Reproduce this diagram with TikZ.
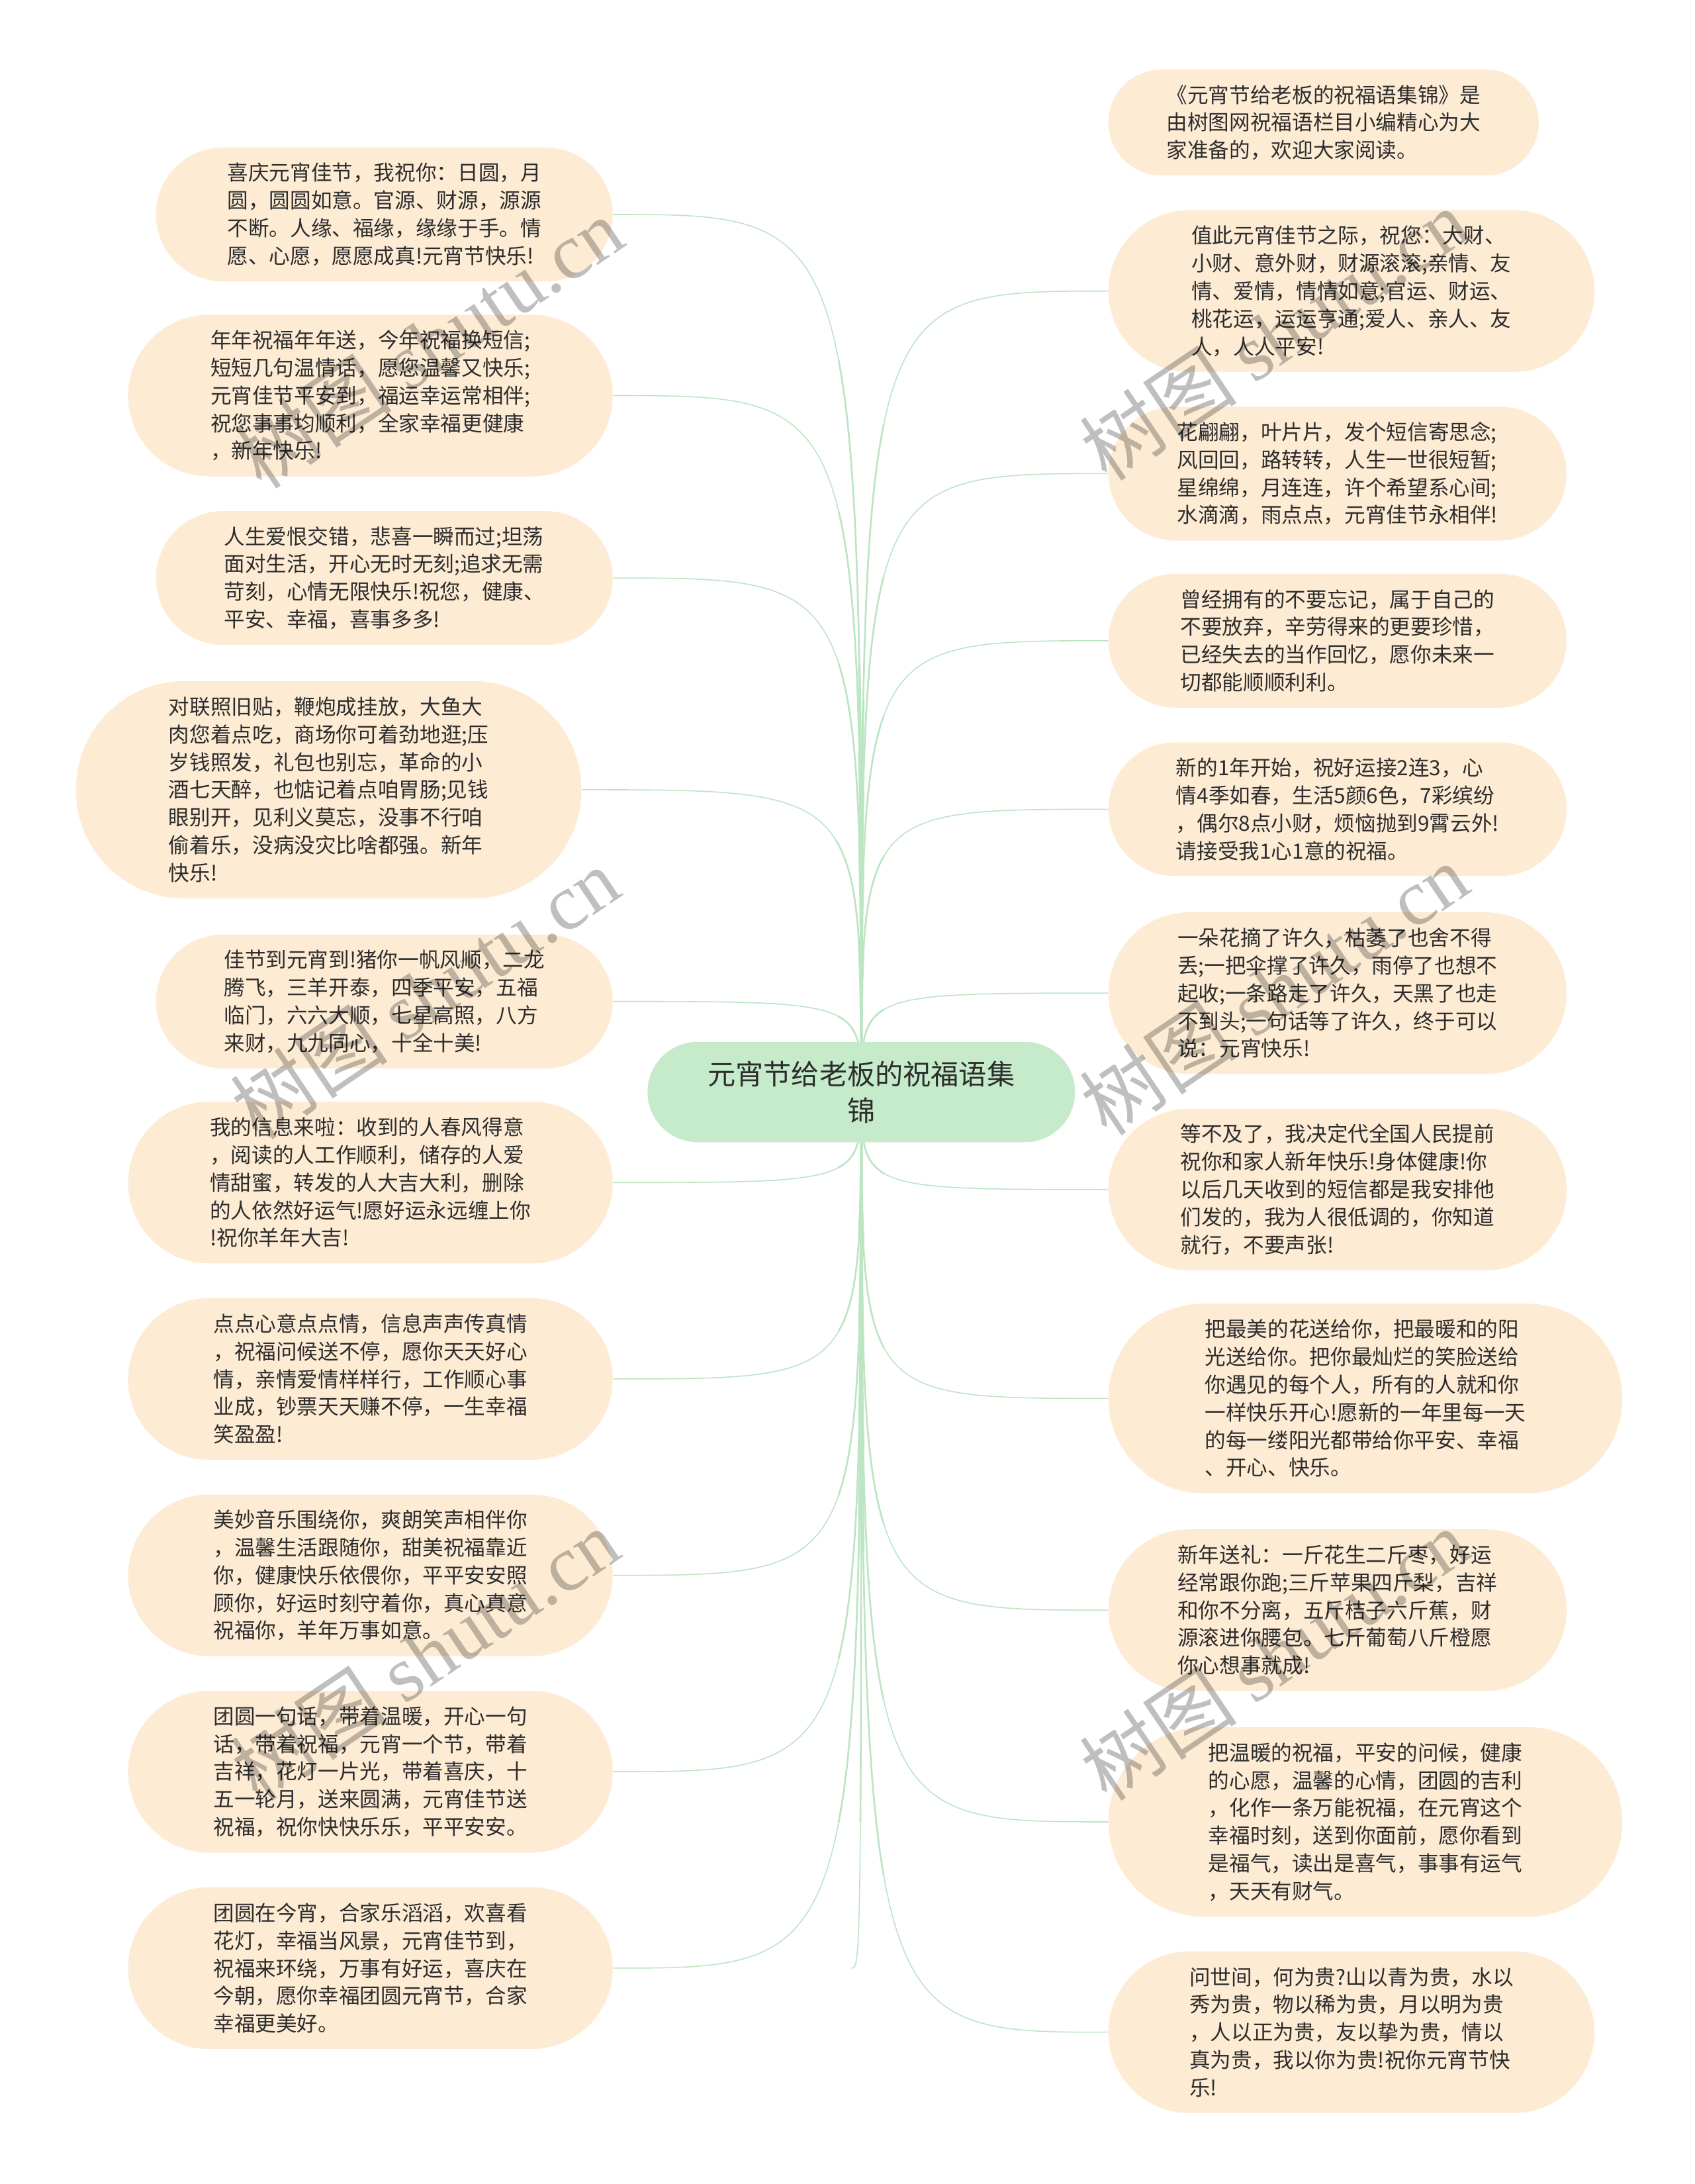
\documentclass[tikz,border=0pt]{standalone}
\usepackage{fontspec}
\setmainfont{Noto Sans CJK SC}
\newfontfamily\wmfont{Liberation Serif}
\usetikzlibrary{backgrounds, calc}
\definecolor{MapPeach}{RGB}{253,235,212}
\definecolor{MapGreen}{RGB}{197,235,202}
\definecolor{MapLink}{RGB}{188,229,195}
\definecolor{MapText}{RGB}{45,45,45}
\newcommand{\px}{0.021036cm}

\begin{document}
\begin{tikzpicture}[x=\px, y=-\px,
    leaf/.style 2 args={rectangle, fill=MapPeach, text=MapText,
                        minimum width=#1*\px, minimum height=#2*\px,
                        rounded corners=#2*\px/2, align=left, inner sep=0pt,
                        font=\fontsize{9pt}{11.9pt}\selectfont},
    root/.style={rectangle, fill=MapGreen, text=MapText,
                 minimum width=307*\px, minimum height=72*\px,
                 rounded corners=36*\px, align=center, inner sep=0pt,
                 font=\fontsize{12pt}{15.6pt}\selectfont},
    link/.style={draw=MapLink, line width=0.45pt},
    wmark/.style={rotate=34, text=black, opacity=0.25,
                  font=\fontsize{34pt}{34pt}\selectfont}
  ]
  \useasboundingbox (0,0) rectangle (1217,1568);

  % centre topic
  \node[root] (root) at (618.5,784) {元宵节给老板的祝福语集\\锦};

  % left branch
  \node[leaf={328}{96}]  (l1) at (276,154) {喜庆元宵佳节，我祝你：日圆，月\\圆，圆圆如意。官源、财源，源源\\不断。人缘、福缘，缘缘于手。情\\愿、心愿，愿愿成真!元宵节快乐!};
  \node[leaf={348}{116}] (l2) at (266,284) {年年祝福年年送，今年祝福换短信;\\短短几句温情话，愿您温馨又快乐;\\元宵佳节平安到，福运幸运常相伴;\\祝您事事均顺利，全家幸福更健康\\，新年快乐!};
  \node[leaf={328}{96}]  (l3) at (276,415) {人生爱恨交错，悲喜一瞬而过;坦荡\\面对生活，开心无时无刻;追求无需\\苛刻，心情无限快乐!祝您，健康、\\平安、幸福，喜事多多!};
  \node[leaf={363}{156}] (l4) at (236,567) {对联照旧贴，鞭炮成挂放，大鱼大\\肉您着点吃，商场你可着劲地逛;压\\岁钱照发，礼包也别忘，革命的小\\酒七天醉，也惦记着点咱胃肠;见钱\\眼别开，见利义莫忘，没事不行咱\\偷着乐，没病没灾比啥都强。新年\\快乐!};
  \node[leaf={328}{96}]  (l5) at (276,719) {佳节到元宵到!猪你一帆风顺，二龙\\腾飞，三羊开泰，四季平安，五福\\临门，六六大顺，七星高照，八方\\来财，九九同心，十全十美!};
  \node[leaf={348}{116}] (l6) at (266,849) {我的信息来啦：收到的人春风得意\\，阅读的人工作顺利，储存的人爱\\情甜蜜，转发的人大吉大利，删除\\的人依然好运气!愿好运永远缠上你\\!祝你羊年大吉!};
  \node[leaf={348}{116}] (l7) at (266,990) {点点心意点点情，信息声声传真情\\，祝福问候送不停，愿你天天好心\\情，亲情爱情样样行，工作顺心事\\业成，钞票天天赚不停，一生幸福\\笑盈盈!};
  \node[leaf={348}{116}] (l8) at (266,1131) {美妙音乐围绕你，爽朗笑声相伴你\\，温馨生活跟随你，甜美祝福靠近\\你，健康快乐依偎你，平平安安照\\顾你，好运时刻守着你，真心真意\\祝福你，羊年万事如意。};
  \node[leaf={348}{116}] (l9) at (266,1272) {团圆一句话，带着温暖，开心一句\\话，带着祝福，元宵一个节，带着\\吉祥，花灯一片光，带着喜庆，十\\五一轮月，送来圆满，元宵佳节送\\祝福，祝你快快乐乐，平平安安。};
  \node[leaf={348}{116}] (l10) at (266,1413) {团圆在今宵，合家乐滔滔，欢喜看\\花灯，幸福当风景，元宵佳节到，\\祝福来环绕，万事有好运，喜庆在\\今朝，愿你幸福团圆元宵节，合家\\幸福更美好。};

  % right branch
  \node[leaf={309}{76}]  (r1) at (950.5,88) {《元宵节给老板的祝福语集锦》是\\由树图网祝福语栏目小编精心为大\\家准备的，欢迎大家阅读。};
  \node[leaf={349}{116}] (r2) at (970.5,209) {值此元宵佳节之际，祝您：大财、\\小财、意外财，财源滚滚;亲情、友\\情、爱情，情情如意;官运、财运、\\桃花运，运运亨通;爱人、亲人、友\\人，人人平安!};
  \node[leaf={329}{96}]  (r3) at (960.5,340) {花翩翩，叶片片，发个短信寄思念;\\风回回，路转转，人生一世很短暂;\\星绵绵，月连连，许个希望系心间;\\水滴滴，雨点点，元宵佳节永相伴!};
  \node[leaf={329}{96}]  (r4) at (960.5,460) {曾经拥有的不要忘记，属于自己的\\不要放弃，辛劳得来的更要珍惜，\\已经失去的当作回忆，愿你未来一\\切都能顺顺利利。};
  \node[leaf={329}{96}]  (r5) at (960.5,581) {新的1年开始，祝好运接2连3，心\\情4季如春，生活5颜6色，7彩缤纷\\，偶尔8点小财，烦恼抛到9霄云外!\\请接受我1心1意的祝福。};
  \node[leaf={329}{116}] (r6) at (960.5,713) {一朵花摘了许久，枯萎了也舍不得\\丢;一把伞撑了许久，雨停了也想不\\起收;一条路走了许久，天黑了也走\\不到头;一句话等了许久，终于可以\\说：元宵快乐!};
  \node[leaf={329}{116}] (r7) at (960.5,854) {等不及了，我决定代全国人民提前\\祝你和家人新年快乐!身体健康!你\\以后几天收到的短信都是我安排他\\们发的，我为人很低调的，你知道\\就行，不要声张!};
  \node[leaf={369}{136}] (r8) at (980.5,1004) {把最美的花送给你，把最暖和的阳\\光送给你。把你最灿烂的笑脸送给\\你遇见的每个人，所有的人就和你\\一样快乐开心!愿新的一年里每一天\\的每一缕阳光都带给你平安、幸福\\、开心、快乐。};
  \node[leaf={329}{116}] (r9) at (960.5,1156) {新年送礼：一斤花生二斤枣，好运\\经常跟你跑;三斤苹果四斤梨，吉祥\\和你不分离，五斤桔子六斤蕉，财\\源滚进你腰包。七斤葡萄八斤橙愿\\你心想事就成!};
  \node[leaf={369}{136}] (r10) at (980.5,1308) {把温暖的祝福，平安的问候，健康\\的心愿，温馨的心情，团圆的吉利\\，化作一条万能祝福，在元宵这个\\幸福时刻，送到你面前，愿你看到\\是福气，读出是喜气，事事有运气\\，天天有财气。};
  \node[leaf={349}{116}] (r11) at (970.5,1459) {问世间，何为贵?山以青为贵，水以\\秀为贵，物以稀为贵，月以明为贵\\，人以正为贵，友以挚为贵，情以\\真为贵，我以你为贵!祝你元宵节快\\乐!};

  % links behind the topics, thicker near the centre
  \begin{scope}[on background layer]
    \fill[white] (0,0) rectangle (1217,1568);
    \foreach \n/\a in {l1/east, l2/east, l3/east, l4/east, l5/east,
                       l6/east, l7/east, l8/east, l9/east, l10/east,
                       r1/west, r2/west, r3/west, r4/west, r5/west, r6/west,
                       r7/west, r8/west, r9/west, r10/west, r11/west} {
      \coordinate (k) at (root.center |- \n.\a);
      \draw[link] (root.center) .. controls (k) .. (\n.\a);
      \foreach \t/\w in {0.45/0.75pt, 0.2/1.05pt} {
        \coordinate (q0) at ($(root.center)!\t!(k)$);
        \coordinate (q2) at ($(k)!\t!(\n.\a)$);
        \coordinate (r0) at ($(q0)!\t!(k)$);
        \coordinate (r1) at ($(k)!\t!(q2)$);
        \coordinate (s) at ($(r0)!\t!(r1)$);
        \draw[link, line width=\w] (root.center) .. controls (q0) and (r0) .. (s);
      }
    }
  \end{scope}

  % watermarks
  \foreach \wx/\wy in {308/246, 305/713, 305/1188, 915/240, 915/710, 915/1188}
    \node[wmark] (wm-\wx-\wy) at (\wx,\wy) {树图 {\wmfont shutu.cn}};
\end{tikzpicture}
\end{document}
